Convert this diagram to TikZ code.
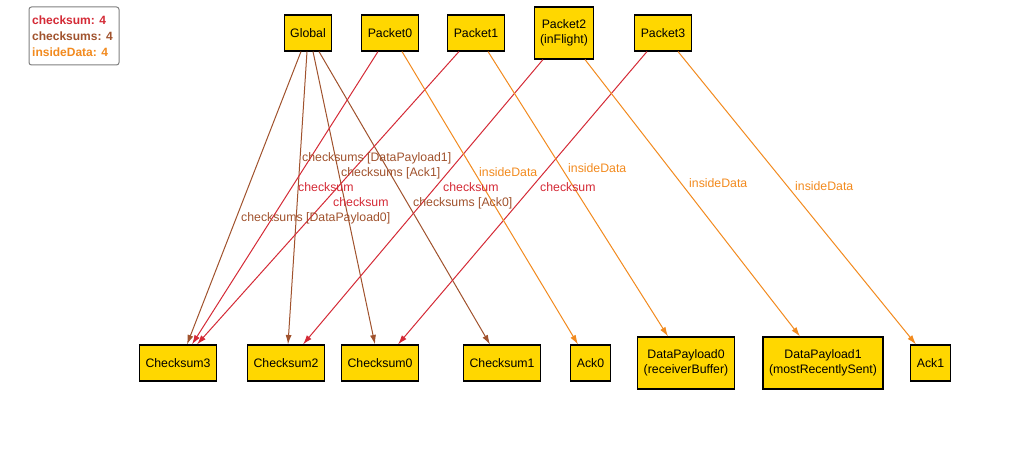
\documentclass[tikz,border=0pt]{standalone}
\usepackage{fontspec}
\setmainfont{Liberation Sans}
\usetikzlibrary{arrows.meta}
\definecolor{cred}{HTML}{D42A36}
\definecolor{cbrown}{HTML}{A0522D}
\definecolor{corange}{HTML}{F28A1E}
\definecolor{cgold}{HTML}{FFD700}
\tikzset{
  atom/.style={draw=black, line width=1.1pt, fill=cgold, inner xsep=6pt, inner ysep=0pt,
    minimum height=36pt, font=\fontsize{12.3}{14.5}\selectfont, align=center},
  tallatom/.style={atom, minimum height=52pt},
  rel/.style={line width=1pt, -{Latex[length=9.5pt,width=6pt]}},
  relred/.style={rel, draw=cred},
  relbrown/.style={rel, draw=cbrown},
  relorange/.style={rel, draw=corange},
  lab/.style={anchor=base west, inner sep=0pt, font=\fontsize{12.3}{14.5}\selectfont},
  legtext/.style={anchor=base west, inner sep=0pt, font=\fontsize{12}{14}\selectfont\bfseries},
}
\begin{document}
\begin{tikzpicture}[x=1pt,y=-1pt]
\useasboundingbox (0,0) rectangle (1018,454);
% legend
\draw[draw=gray, line width=1pt, rounded corners=2.5pt, fill=white] (29,7) rectangle (119,65);
\node[legtext, text=cred] (lg1) at (32,25) {checksum: 4};
\node[legtext, text=cbrown] (lg2) at (32,41) {checksums: 4};
\node[legtext, text=corange] (lg3) at (32,57) {insideData: 4};
% top nodes
\node[atom] (Global) at (308,33) {Global};
\node[atom] (P0) at (390,33) {Packet0};
\node[atom] (P1) at (476,33) {Packet1};
\node[tallatom] (P2) at (564,33) {Packet2\\(inFlight)};
\node[atom] (P3) at (663,33) {Packet3};
% bottom nodes
\node[atom] (C3) at (178,363) {Checksum3};
\node[atom] (C2) at (286,363) {Checksum2};
\node[atom] (C0) at (380,363) {Checksum0};
\node[atom] (C1) at (502,363) {Checksum1};
\node[atom] (A0) at (590.5,363) {Ack0};
\node[tallatom] (D0) at (686,363) {DataPayload0\\(receiverBuffer)};
\node[tallatom] (D1) at (823,363) {DataPayload1\\(mostRecentlySent)};
\node[atom] (A1) at (930.5,363) {Ack1};
% checksums (brown)
\draw[relbrown] ([xshift=-7pt]Global.south) -- ([xshift=9pt]C3.north);
\draw[relbrown] ([xshift=-1pt]Global.south) -- ([xshift=2pt]C2.north);
\draw[relbrown] ([xshift=5pt]Global.south) -- ([xshift=-5pt]C0.north);
\draw[relbrown] ([xshift=11pt]Global.south) -- ([xshift=-12pt]C1.north);
% checksum (red)
\draw[relred] ([xshift=-12pt]P0.south) -- ([xshift=14pt]C3.north);
\draw[relred] ([xshift=-17pt]P1.south) -- ([xshift=19pt]C3.north);
\draw[relred] ([xshift=-21pt]P2.south) -- ([xshift=17pt]C2.north);
\draw[relred] ([xshift=-16pt]P3.south) -- ([xshift=18pt]C0.north);
% insideData (orange)
\draw[relorange] ([xshift=12pt]P0.south) -- ([xshift=-12.5pt]A0.north);
\draw[relorange] ([xshift=12pt]P1.south) -- ([xshift=-18pt]D0.north);
\draw[relorange] ([xshift=21pt]P2.south) -- ([xshift=-23pt]D1.north);
\draw[relorange] ([xshift=15pt]P3.south) -- ([xshift=-14.5pt]A1.north);
% labels
\node[lab, text=cbrown] (l1) at (302,161.5) {checksums [DataPayload1]};
\node[lab, text=cbrown] (l2) at (341,176.5) {checksums [Ack1]};
\node[lab, text=cred] (l3) at (298,191.5) {checksum};
\node[lab, text=cred] (l4) at (333,206.5) {checksum};
\node[lab, text=cbrown] (l5) at (241,222) {checksums [DataPayload0]};
\node[lab, text=cbrown] (l6) at (413,206.5) {checksums [Ack0]};
\node[lab, text=cred] (l7) at (443,191.5) {checksum};
\node[lab, text=corange] (l8) at (479,176.5) {insideData};
\node[lab, text=corange] (l9) at (568,173) {insideData};
\node[lab, text=cred] (l10) at (540,191.5) {checksum};
\node[lab, text=corange] (l11) at (689,187.5) {insideData};
\node[lab, text=corange] (l12) at (795,190.5) {insideData};
\end{tikzpicture}
\end{document}
